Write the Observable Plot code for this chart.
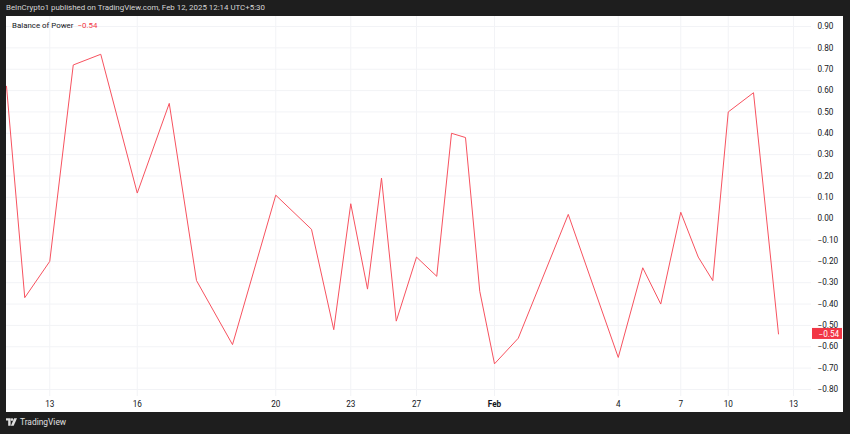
<!DOCTYPE html>
<html>
<head>
<meta charset="utf-8">
<script src="https://cdn.jsdelivr.net/npm/d3@7"></script>
<script src="https://cdn.jsdelivr.net/npm/@observablehq/plot@0.6"></script>
<style>
  html, body { margin: 0; padding: 0; }
  body { width: 850px; height: 434px; background: #1e1e1e; position: relative; overflow: hidden;
         font-family: Roboto, "Liberation Sans", sans-serif; }
  #header { position: absolute; left: 6px; top: 3px; font-size: 7.9px; color: #d6d6d6; white-space: nowrap; }
  #panel { position: absolute; left: 6px; top: 16px; width: 837px; height: 396px; background: #ffffff; }
  #legend { position: absolute; left: 6px; top: 5px; font-size: 7.9px; color: #131722; white-space: nowrap; }
  #legend .val { color: #f23645; margin-left: 4px; }
  #footer { position: absolute; left: 6px; top: 417px; font-size: 8.4px; color: #e0e0e0; display: flex; align-items: center; gap: 3px; }
</style>
</head>
<body>
<div id="header">BeInCrypto1 published on TradingView.com, Feb 12, 2025 12:14 UTC+5:30</div>
<div id="panel"><div id="chart"></div><div id="legend"></div></div>
<div id="footer">
  <svg width="11" height="8" viewBox="0 0 10 7"><path d="M0 0H4.2V7H2V2.2H0Z" fill="#e0e0e0"/><circle cx="5.4" cy="1.3" r="1.2" fill="#e0e0e0"/><path d="M7.4 0H10L7 7H4.4Z" fill="#e0e0e0"/></svg>
  <span>TradingView</span>
</div>
<script>
// Bar positions on TradingView's index-based time axis, and Balance of Power values
const barIndex = [0, 7.3, 17.3, 26.7, 37.7, 52.3, 65.1, 76, 90.4, 107.7, 122, 130.9, 137.7, 144.4, 150, 155.9, 164, 172.1, 178, 183.6, 189.3, 195.2, 204.7, 224.7, 244.7, 254.5, 261.7, 269.7, 276.7, 282.5, 288.7, 298.8, 308.8];
const bop = [0.62, -0.37, -0.20, 0.72, 0.77, 0.12, 0.54, -0.29, -0.59, 0.11, -0.05, -0.52, 0.07, -0.33, 0.19, -0.48, -0.18, -0.27, 0.40, 0.38, -0.34, -0.68, -0.56, 0.02, -0.65, -0.23, -0.40, 0.03, -0.18, -0.29, 0.50, 0.59, -0.54];
// Time axis ticks
const tickBars = [17.3, 52.3, 107.7, 137.7, 164, 195.2, 244.7, 269.7, 288.7, 314.8];
const tickLabels = ["13", "16", "20", "23", "27", "Feb", "4", "7", "10", "13"];
// Price axis ticks
const yTicks = [-0.8, -0.7, -0.6, -0.5, -0.4, -0.3, -0.2, -0.1, 0, 0.1, 0.2, 0.3, 0.4, 0.5, 0.6, 0.7, 0.8, 0.9];
const xDomain = [0, 322];
const yDomain = [-0.833, 0.947];

const data = barIndex.map((b, i) => ({bar: b, value: bop[i]}));
const ticks = tickBars.map((b, i) => ({bar: b, label: tickLabels[i]}));
const last = data[data.length - 1];
const fmt = v => (v < 0 ? "\u2212" : "") + Math.abs(v).toFixed(2);

const red = "#f23645";
const lineColor = "#f7525f";
const gridColor = "#f2f3f6";

const chart = Plot.plot({
  width: 837,
  height: 396,
  marginLeft: 0,
  marginRight: 32,
  marginTop: 0,
  marginBottom: 16,
  style: {fontFamily: "Roboto, 'Liberation Sans', sans-serif", fontSize: "8.2px", color: "#131722", background: "#ffffff"},
  x: {domain: xDomain, axis: null},
  y: {domain: yDomain, axis: null},
  marks: [
    Plot.gridY(yTicks, {stroke: gridColor, strokeOpacity: 1}),
    Plot.gridX(tickBars, {stroke: gridColor, strokeOpacity: 1}),
    Plot.axisY(yTicks, {anchor: "right", tickSize: 0, tickPadding: 6, tickFormat: fmt, label: null, fill: "#131722"}),
    Plot.text(ticks.filter(d => d.label !== "Feb"), {x: "bar", frameAnchor: "bottom", dy: 10.5, text: "label", fill: "#131722"}),
    Plot.text(ticks.filter(d => d.label === "Feb"), {x: "bar", frameAnchor: "bottom", dy: 10.5, text: "label", fill: "#131722", fontWeight: "bold"}),
    Plot.line(data, {x: "bar", y: "value", stroke: lineColor, strokeWidth: 1, clip: true}),
    Plot.rect([last], {x1: () => xDomain[1], x2: () => xDomain[1], y1: "value", y2: "value", insetLeft: 1, insetRight: -31, insetTop: -5.5, insetBottom: -5.5, fill: red}),
    Plot.text([last], {x: () => xDomain[1], y: "value", text: d => fmt(d.value), textAnchor: "start", dx: 7, fill: "#ffffff"})
  ]
});
document.getElementById("chart").appendChild(chart);
document.getElementById("legend").innerHTML = 'Balance of Power<span class="val">' + fmt(last.value) + '</span>';
</script>
</body>
</html>
